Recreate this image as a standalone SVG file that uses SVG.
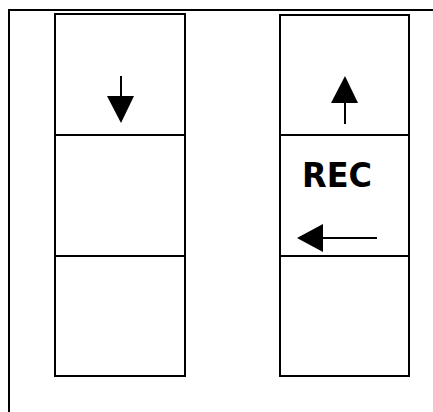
<svg xmlns="http://www.w3.org/2000/svg" width="433" height="412" viewBox="0 0 433 412">
<style>
.ln{stroke:#000;stroke-width:2;fill:none}
.box{stroke:#000;stroke-width:2;fill:#fff}
.ar{fill:#000;stroke:none}
.lbl{font-family:"DejaVu Sans",sans-serif;font-weight:bold;font-size:34px;fill:#000}
</style>
<g id="frame">
<path class="ln" d="M9,412 V10 H433"/>
</g>
<g id="left-top"><rect class="box" x="55" y="14" width="130" height="121"/></g>
<g id="left-mid"><rect class="box" x="55" y="135" width="130" height="121"/></g>
<g id="left-bot"><rect class="box" x="55" y="256" width="130" height="120"/></g>
<g id="right-top"><rect class="box" x="280" y="15" width="129" height="120"/></g>
<g id="right-mid"><rect class="box" x="280" y="135" width="129" height="121"/>
<text class="lbl" x="302" y="187" textLength="70" lengthAdjust="spacingAndGlyphs">REC</text></g>
<g id="right-bot"><rect class="box" x="280" y="256" width="129" height="120"/></g>
<g id="connectors">
<line class="ln" x1="121" y1="76" x2="121" y2="97"/>
<polygon class="ar" points="107,96 134,96 121,123"/>
<line class="ln" x1="345" y1="102" x2="345" y2="124"/>
<polygon class="ar" points="331,103 358,103 345,76"/>
<line class="ln" x1="377" y1="238" x2="322" y2="238"/>
<polygon class="ar" points="323,224 323,252 297,238"/>
</g>
</svg>
